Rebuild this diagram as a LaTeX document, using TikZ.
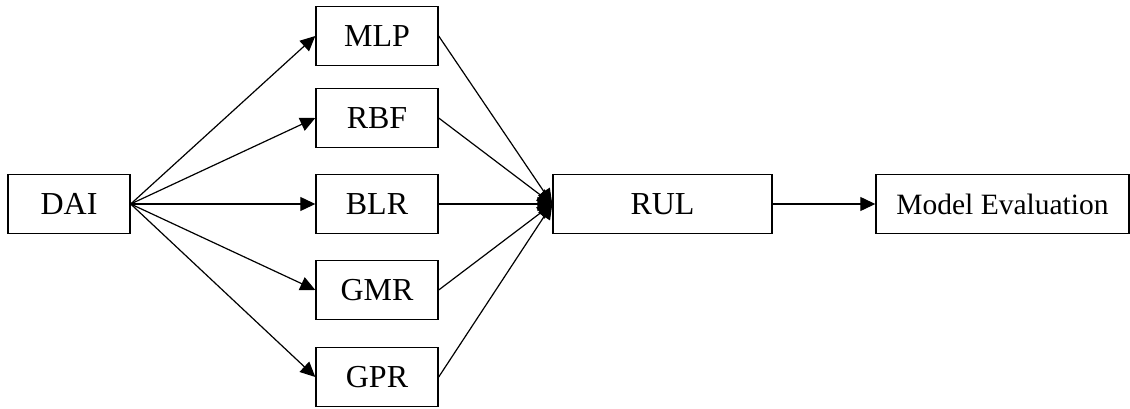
\documentclass[tikz,border=0pt]{standalone}
\usepackage{fontspec}
\setmainfont{Liberation Serif}
\usetikzlibrary{arrows.meta}
\begin{document}
\begin{tikzpicture}[x=1pt,y=-1pt,
  box/.style={draw,line width=1.4pt,minimum height=59pt,inner sep=0pt,font=\fontsize{32}{34}\selectfont},
  conn/.style={line width=1.2pt,-{Triangle[length=15pt,width=14pt]}}]
\useasboundingbox (0,0) rectangle (1130,409);
\node[box,minimum width=122pt] (dai) at (69,204) {DAI};
\node[box,minimum width=122pt] (mlp) at (377,36) {MLP};
\node[box,minimum width=122pt] (rbf) at (377,118) {RBF};
\node[box,minimum width=122pt] (blr) at (377,204) {BLR};
\node[box,minimum width=122pt] (gmr) at (377,290) {GMR};
\node[box,minimum width=122pt] (gpr) at (377,377) {GPR};
\node[box,minimum width=219pt] (rul) at (662.5,204) {RUL};
\node[box,minimum width=253pt,font=\fontsize{29.5}{31}\selectfont] (me) at (1002.5,204) {Model Evaluation};
\foreach \n in {mlp,rbf,blr,gmr,gpr}{
  \draw[conn] (dai.east) -- (\n.west);
  \draw[conn] (\n.east) -- (rul.west);
}
\draw[conn] (rul.east) -- (me.west);
\end{tikzpicture}
\end{document}
